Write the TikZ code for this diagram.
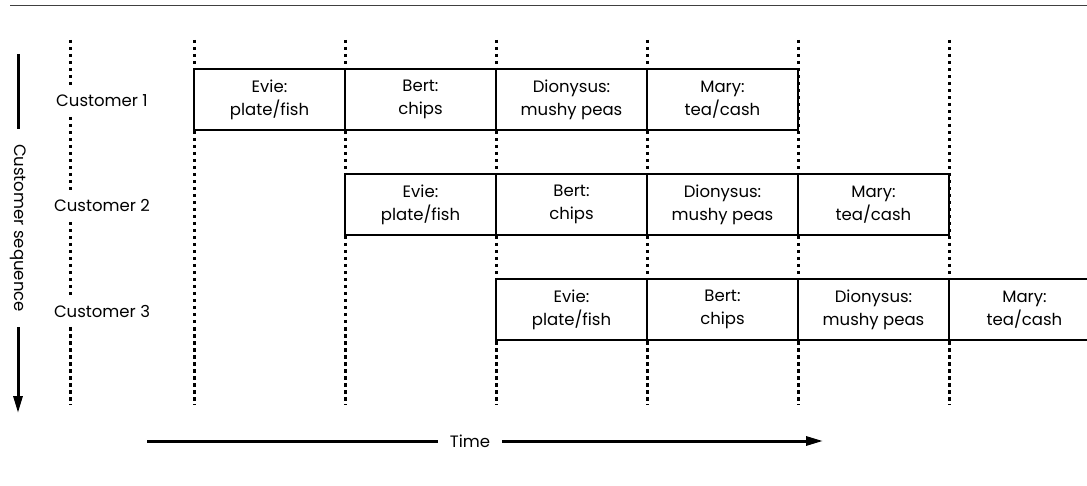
\documentclass[tikz,border=0pt]{standalone}
\usepackage{fontspec}
\setmainfont{Poppins}
\usetikzlibrary{arrows.meta}

\tikzset{
  task/.style={draw, line width=1.6pt, fill=white, minimum width=151pt,
    minimum height=61pt, inner sep=0pt, align=center},
  custlabel/.style={fill=white, inner xsep=2pt, minimum height=30pt},
  slotline/.style={line width=3pt, dash pattern=on 3.5pt off 3.5pt},
  heavyline/.style={line width=3pt},
  headtip/.style={-{Triangle[length=17pt,width=9pt]}}
}

\begin{document}
\begin{tikzpicture}[x=1pt, y=-1pt, font=\fontsize{16.5}{23}\selectfont]
\useasboundingbox (0,0) rectangle (1087,486);

%========================
% Rule at the top
%========================
\draw[line width=1.5pt, black!75] (10,5.5) -- (1087,5.5);

%========================
% Time slots
%========================

% dotted slot boundaries
\draw[slotline] (70,40) -- (70,405);
\foreach \i in {0,...,5}
{
    \draw[slotline] (194+151*\i,40) -- (194+151*\i,405);
}

% customer names
\foreach \r in {1,2,3}
{
    \node[custlabel] (cust\r) at (102,{101+105*(\r-1)}) {Customer \r};
}

% one row of stages per customer, shifted one slot each time
\foreach \r in {1,2,3}
{
    \foreach \txt [count=\k] in {{Evie:\\plate/fish},{Bert:\\chips},
        {Dionysus:\\mushy peas},{Mary:\\tea/cash}}
    {
        \node[task] (c\r-\k) at ({269.5+151*(\r+\k-2)},{99.5+105*(\r-1)}) {\txt};
    }
}

%========================
% Axes
%========================

% customer sequence, downwards
\node[rotate=-90, inner xsep=15pt] (seq) at (18,228) {Customer sequence};
\coordinate (seqtop) at (18,54);
\coordinate (seqbot) at (18,413);
\draw[heavyline] (seqtop) -- (seq);
\draw[heavyline,headtip] (seq) -- (seqbot);

% time, to the right
\node[inner xsep=12pt] (time) at (470,441) {Time};
\coordinate (tstart) at (147,441);
\coordinate (tend) at (823,441);
\draw[heavyline] (tstart) -- (time);
\draw[heavyline,headtip] (time) -- (tend);
\end{tikzpicture}
\end{document}
